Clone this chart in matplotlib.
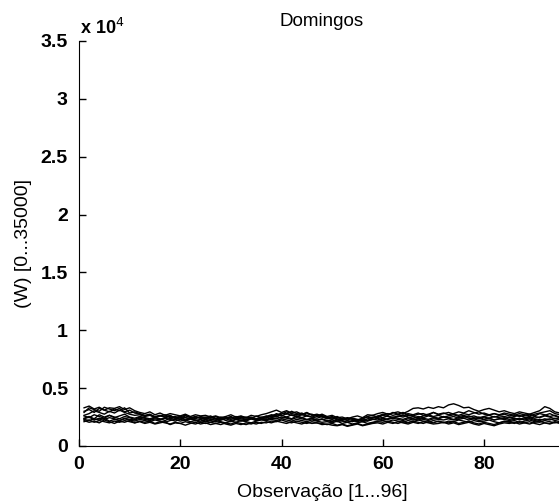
import matplotlib
matplotlib.use('Agg')
import matplotlib.pyplot as plt
from matplotlib.ticker import FuncFormatter
import numpy as np

plt.rcParams['font.family'] = ['Liberation Sans', 'DejaVu Sans']

# power readings (W) for each Sunday, 96 observations per day
sun01 = [3300, 3450, 3200, 3350, 3100, 3300, 3250, 3400, 3150, 3300, 3050, 2900,
         2800, 2950, 2700, 2850, 2650, 2800, 2700, 2600, 2750, 2550, 2700, 2600,
         2650, 2500, 2600, 2450, 2550, 2700, 2500, 2600, 2450, 2650, 2550, 2700,
         2800, 2950, 3100, 2900, 3050, 2850, 2950, 2750, 2850, 2700, 2600, 2750,
         2550, 2650, 2450, 2500, 2350, 2500, 2600, 2450, 2700, 2650, 2800, 2900,
         2750, 2850, 2950, 2800, 3000, 3250, 3300, 3200, 3350, 3250, 3400, 3300,
         3550, 3650, 3500, 3300, 3350, 3150, 3000, 3150, 3250, 3100, 2950, 3050,
         2900, 2800, 2950, 2850, 2750, 2900, 3050, 3400, 3250, 2950, 2850, 2700]
sun02 = [3000, 3150, 2900, 3250, 3100, 2950, 3200, 3050, 3300, 2850, 2950, 2800,
         2650, 2750, 2500, 2600, 2700, 2450, 2550, 2400, 2600, 2500, 2350, 2550,
         2450, 2600, 2350, 2500, 2400, 2550, 2300, 2450, 2500, 2350, 2600, 2450,
         2550, 2700, 2650, 2850, 2750, 3000, 2800, 2700, 2900, 2650, 2750, 2600,
         2450, 2550, 2350, 2250, 2400, 2300, 2200, 2350, 2500, 2400, 2600, 2700,
         2800, 2650, 2750, 2900, 2700, 2600, 2750, 2800, 2650, 2900, 2750, 2850,
         2700, 2800, 2950, 2850, 3050, 2900, 2750, 2850, 2700, 2800, 2650, 2750,
         2600, 2700, 2550, 2650, 2750, 2600, 2800, 2700, 2550, 2650, 2500, 2600]
sun03 = [2600, 2450, 2700, 2550, 2400, 2650, 2500, 2350, 2550, 2450, 2300, 2500,
         2400, 2250, 2450, 2350, 2200, 2400, 2300, 2450, 2250, 2350, 2200, 2300,
         2150, 2300, 2250, 2400, 2200, 2100, 2300, 2250, 2150, 2350, 2250, 2400,
         2300, 2450, 2550, 2400, 2500, 2350, 2600, 2450, 2300, 2400, 2250, 2350,
         2200, 2100, 2250, 2150, 2050, 2200, 2100, 2250, 2150, 2300, 2400, 2250,
         2350, 2500, 2400, 2300, 2450, 2350, 2250, 2400, 2300, 2450, 2350, 2500,
         2400, 2300, 2450, 2550, 2400, 2350, 2500, 2300, 2400, 2250, 2350, 2450,
         2300, 2400, 2250, 2350, 2450, 2300, 2200, 2350, 2250, 2400, 2300, 2350]
sun04 = [2200, 2050, 2150, 2000, 2250, 2100, 1950, 2150, 2050, 2200, 2000, 2100,
         1950, 2050, 1900, 2000, 2100, 1850, 2000, 1950, 1800, 1950, 2050, 1900,
         2000, 1850, 1950, 2050, 1900, 1800, 1950, 1850, 2000, 1900, 2050, 1950,
         2100, 2000, 2150, 2050, 1950, 2100, 2000, 1900, 2050, 1950, 2000, 1850,
         1900, 1800, 1750, 1850, 1700, 1800, 1900, 1750, 1850, 1950, 2000, 1900,
         2050, 1950, 2100, 2000, 1900, 2050, 1950, 2100, 2000, 1900, 1950, 2050,
         1900, 2000, 1850, 1950, 2050, 1900, 1800, 1950, 1850, 1750, 1900, 2000,
         1950, 2050, 1900, 2000, 2100, 1950, 1850, 2000, 1900, 2050, 1950, 2000]
sun05 = [2400, 2550, 2350, 2700, 2500, 2650, 2450, 2600, 2750, 2500, 2400, 2550,
         2450, 2350, 2500, 2300, 2450, 2550, 2400, 2300, 2450, 2350, 2500, 2400,
         2300, 2450, 2350, 2250, 2400, 2500, 2350, 2450, 2300, 2400, 2250, 2350,
         2450, 2550, 2800, 2650, 2500, 2700, 2550, 2450, 2600, 2500, 2400, 2550,
         2350, 2450, 2250, 2350, 2200, 2100, 2250, 2350, 2200, 2450, 2550, 2450,
         2600, 2450, 2550, 2700, 2500, 2400, 2550, 2450, 2600, 2500, 2400, 2550,
         2450, 2550, 2400, 2500, 2600, 2450, 2350, 2500, 2400, 2550, 2450, 2350,
         2500, 2400, 2300, 2450, 2550, 2400, 2500, 2650, 2800, 2600, 2450, 2400]
sun06 = [2300, 2200, 2350, 2250, 2400, 2150, 2300, 2200, 2350, 2250, 2150, 2300,
         2200, 2100, 2250, 2150, 2050, 2200, 2300, 2150, 2250, 2100, 2200, 2050,
         2150, 2050, 2200, 2100, 2000, 2150, 2050, 2200, 2100, 2000, 2150, 2250,
         2200, 2300, 2200, 2350, 2250, 2150, 2300, 2200, 2100, 2250, 2150, 2050,
         2100, 2000, 2150, 1950, 2050, 1900, 2000, 2100, 1950, 2050, 2150, 2200,
         2100, 2250, 2150, 2050, 2200, 2100, 2250, 2150, 2050, 2200, 2100, 2000,
         2150, 2100, 2250, 2150, 2050, 2200, 2100, 2150, 2250, 2100, 2000, 2150,
         2100, 2200, 2050, 2150, 2250, 2100, 2050, 2200, 2100, 2000, 2150, 2100]
sun07 = [2900, 3300, 3150, 3000, 3350, 3200, 3050, 3250, 2950, 3100, 2850, 2750,
         2600, 2700, 2550, 2650, 2500, 2600, 2450, 2550, 2650, 2450, 2550, 2400,
         2500, 2400, 2550, 2350, 2450, 2300, 2450, 2550, 2400, 2500, 2350, 2450,
         2600, 2500, 2700, 2600, 2800, 2650, 2550, 2700, 2600, 2500, 2650, 2500,
         2400, 2300, 2450, 2350, 2250, 2400, 2300, 2200, 2350, 2500, 2450, 2650,
         2550, 2450, 2600, 2500, 2650, 2550, 2450, 2600, 2700, 2550, 2650, 2500,
         2600, 2700, 2550, 2650, 2500, 2600, 2450, 2550, 2650, 2500, 2600, 2550,
         2450, 2550, 2650, 2500, 2400, 2550, 2450, 2600, 2500, 2350, 2450, 2550]
sun08 = [2350, 2500, 2250, 2400, 2300, 2450, 2350, 2200, 2400, 2300, 2250, 2400,
         2300, 2200, 2350, 2250, 2400, 2300, 2150, 2300, 2200, 2350, 2250, 2150,
         2300, 2200, 2100, 2250, 2350, 2200, 2300, 2150, 2250, 2350, 2200, 2300,
         2250, 2400, 2350, 2500, 2400, 2300, 2450, 2350, 2250, 2350, 2200, 2300,
         2150, 2250, 2100, 2200, 2050, 2150, 2250, 2100, 2200, 2300, 2250, 2400,
         2300, 2400, 2300, 2200, 2350, 2250, 2400, 2300, 2200, 2350, 2300, 2250,
         2350, 2250, 2300, 2400, 2250, 2350, 2200, 2300, 2400, 2250, 2350, 2300,
         2200, 2300, 2400, 2250, 2350, 2200, 2300, 2250, 2350, 2200, 2300, 2250]
sun09 = [2100, 2250, 2050, 2200, 2100, 2000, 2150, 2050, 2200, 2100, 2000, 2150,
         2050, 2150, 1950, 2100, 2000, 1900, 2050, 1950, 2100, 2000, 1900, 2050,
         1950, 2050, 1950, 1850, 2000, 1900, 2050, 1950, 1850, 2000, 1900, 2050,
         2000, 2150, 2100, 2250, 2100, 2000, 2150, 2050, 1950, 2100, 2000, 1950,
         1850, 1950, 1800, 1900, 1750, 1850, 1950, 1800, 1900, 2000, 2100, 2050,
         2150, 2050, 1950, 2100, 2000, 2150, 2050, 1950, 2100, 2000, 2150, 2050,
         2000, 2100, 1950, 2050, 2150, 2000, 1900, 2050, 1950, 1850, 2000, 2100,
         2050, 1950, 2100, 2000, 1900, 2050, 2150, 2000, 1950, 2100, 2000, 1950]
sun10 = [2650, 2800, 3050, 2900, 2750, 3000, 2850, 3100, 2900, 2750, 2650, 2700,
         2550, 2650, 2450, 2600, 2500, 2650, 2400, 2550, 2450, 2350, 2500, 2450,
         2350, 2500, 2400, 2300, 2450, 2400, 2550, 2350, 2250, 2450, 2350, 2500,
         2400, 2650, 2500, 2750, 2950, 2800, 2700, 2850, 2650, 2750, 2550, 2650,
         2500, 2400, 2550, 2300, 2450, 2350, 2250, 2400, 2550, 2650, 2500, 2750,
         2650, 2900, 2750, 2600, 2800, 2700, 2850, 2650, 2750, 2900, 2700, 2800,
         2900, 2750, 2650, 2800, 2700, 2850, 2950, 2750, 2650, 2800, 2700, 2850,
         2750, 2650, 2800, 2700, 2600, 2750, 2850, 2950, 3050, 2800, 2700, 2650]

sundays = [sun01, sun02, sun03, sun04, sun05, sun06, sun07, sun08, sun09, sun10]
obs = np.arange(1, 97)

fig = plt.figure(figsize=(5.59, 5.01), dpi=100)
ax = fig.add_axes([79 / 559, 1 - 446 / 501, 486 / 559, 405 / 501])

for day in sundays:
    ax.plot(obs, day, color='black', linewidth=1.0)

ax.set_xlim(0, 96)
ax.set_ylim(0, 35000)
ax.set_xticks([0, 20, 40, 60, 80])
ax.set_yticks(np.arange(0, 35001, 5000))
ax.yaxis.set_major_formatter(FuncFormatter(lambda v, p: f'{v / 1e4:g}'))

ax.spines['top'].set_visible(False)
ax.spines['right'].set_visible(False)
ax.tick_params(direction='in', length=5, width=1, labelsize=14)
ax.tick_params(axis='x', pad=7)
ax.tick_params(axis='y', pad=8)
for lbl in ax.get_xticklabels() + ax.get_yticklabels():
    lbl.set_fontweight('bold')

ax.set_xlabel('Observação [1...96]', fontsize=14, labelpad=8)
ax.set_ylabel('(W) [0...35000]', fontsize=14, labelpad=6)
ax.set_title('Domingos', fontsize=13.5, pad=11)
ax.text(0.003, 1.008, 'x 10$^{4}$', transform=ax.transAxes, fontsize=13,
        fontweight='bold', ha='left', va='bottom')

fig.savefig('out.png', dpi=100)
